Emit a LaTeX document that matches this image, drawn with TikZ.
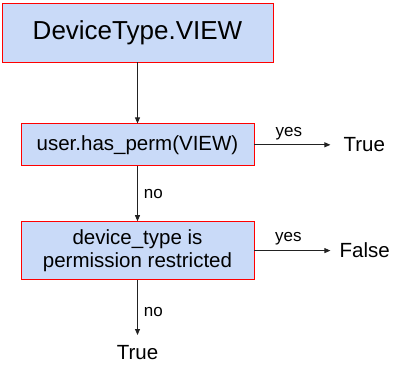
\documentclass[tikz,border=0pt]{standalone}
\usepackage{fontspec}
\setmainfont{Liberation Sans}
\usetikzlibrary{arrows.meta,positioning}
\definecolor{boxbleu}{HTML}{C9DAF8}
\definecolor{boxrouge}{HTML}{FF0000}
\definecolor{fleche}{HTML}{222222}

\begin{document}
\begin{tikzpicture}[
  x=1pt, y=1pt,
  font=\fontsize{20.5}{23}\selectfont,
  box/.style={draw=boxrouge, fill=boxbleu, align=center, inner sep=0pt, minimum width=233pt, line width=0.8pt},
  res/.style={inner sep=0pt},
  lbl/.style={font=\fontsize{17}{19}\selectfont, inner sep=0pt},
  arr/.style={-{Triangle[length=6pt,width=5pt]}, line width=0.8pt, draw=fleche}
]
\useasboundingbox (0,0) rectangle (393,-374);
\node[box, minimum width=271pt, minimum height=59pt, font=\fontsize{26}{29}\selectfont] (view) at (137.5,-32.5) {DeviceType.VIEW};
\node[box, minimum height=42pt, below=61pt of view] (perm) {user.has\_perm(VIEW)};
\node[box, minimum height=58pt, below=55pt of perm] (restr) {device\_type is\\ permission restricted};
\node[res, right=89pt of perm] (permok) {True};
\node[res, right=85pt of restr] (restrok) {False};
\node[res, below=65pt of restr] (fin) {True};

\draw[arr] (view.south) -- (perm.north);
\draw[arr, shorten >=13pt] (perm.east) -- node[lbl, above=4pt, xshift=-10pt]{yes} (permok.west);
\draw[arr] (perm.south) -- node[lbl, right=6pt]{no} (restr.north);
\draw[arr, shorten >=9pt] (restr.east) -- node[lbl, above=5pt, xshift=-8.5pt]{yes} (restrok.west);
\draw[arr, shorten >=10pt] (restr.south) -- node[lbl, right=6pt]{no} (fin.north);
\end{tikzpicture}
\end{document}
